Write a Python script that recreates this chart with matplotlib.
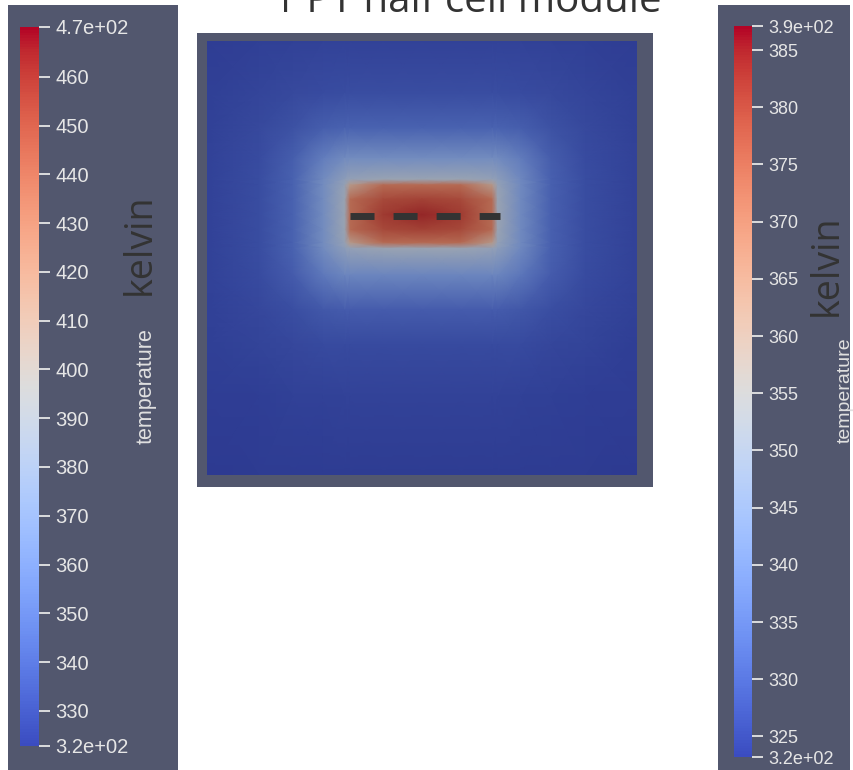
import numpy as np
import matplotlib
matplotlib.use('Agg')
import matplotlib.pyplot as plt
from matplotlib.colors import ListedColormap, Normalize
from matplotlib.patches import Rectangle
import matplotlib.cm as cm

# node positions of the sampled temperature field (percent of the plate)
x_nodes = [0, 12, 20, 27, 32, 33.3, 41, 50, 59, 66.3, 67.6, 73, 80, 88, 100]
y_nodes = [0, 12, 20, 27, 31.9, 33.2, 36.5, 40, 43.5, 46.5, 47.8, 54, 62, 70, 82, 100]

# temperature (K), one row per y node
temp_grid = [
    [325.1, 325.9, 326.8, 327.3, 327.4, 327.4, 327.4, 327.4, 327.4, 327.4, 327.4, 327.3, 326.8, 325.8, 325.0],
    [325.9, 328.2, 330.1, 331.4, 331.8, 331.8, 331.8, 331.8, 331.8, 331.8, 331.8, 331.4, 330.0, 328.1, 325.8],
    [326.8, 330.1, 334.2, 339.8, 341.6, 341.7, 341.7, 341.7, 341.7, 341.7, 341.6, 339.5, 333.8, 329.9, 326.7],
    [327.3, 331.4, 339.6, 356.1, 364.8, 365.4, 365.4, 365.4, 365.4, 365.4, 364.8, 355.1, 339.2, 331.2, 327.1],
    [327.4, 331.8, 341.5, 364.4, 380.3, 384.0, 387.7, 387.7, 387.7, 384.0, 380.3, 363.0, 340.9, 331.6, 327.3],
    [327.4, 331.8, 341.5, 365.0, 384.7, 411.2, 437.8, 437.8, 437.8, 411.2, 384.7, 363.4, 341.0, 331.6, 327.3],
    [327.4, 331.8, 341.5, 365.0, 387.7, 437.8, 451.0, 454.0, 451.0, 437.8, 387.7, 363.4, 341.0, 331.6, 327.3],
    [327.4, 331.8, 341.5, 365.0, 387.7, 437.8, 456.9, 462.8, 456.9, 437.8, 387.7, 363.4, 341.0, 331.6, 327.3],
    [327.4, 331.8, 341.5, 365.0, 387.7, 437.8, 451.0, 454.0, 451.0, 437.8, 387.7, 363.4, 341.0, 331.6, 327.3],
    [327.4, 331.8, 341.5, 365.0, 384.7, 411.2, 437.8, 437.8, 437.8, 411.2, 384.7, 363.4, 341.0, 331.6, 327.3],
    [327.4, 331.8, 341.5, 364.4, 380.3, 384.0, 387.7, 387.7, 387.7, 384.0, 380.3, 363.0, 340.9, 331.6, 327.3],
    [327.2, 331.2, 338.9, 352.8, 360.3, 360.7, 360.7, 360.7, 360.7, 360.7, 360.3, 352.0, 338.4, 331.0, 327.1],
    [326.6, 329.5, 332.2, 336.9, 338.5, 338.5, 338.5, 338.5, 338.5, 338.5, 338.5, 336.6, 332.1, 329.3, 326.5],
    [325.7, 327.8, 329.2, 330.4, 330.8, 330.8, 330.8, 330.8, 330.8, 330.8, 330.8, 330.4, 329.1, 327.7, 325.6],
    [324.9, 325.6, 326.3, 326.7, 326.9, 326.9, 326.9, 326.9, 326.9, 326.9, 326.9, 326.7, 326.2, 325.6, 324.9],
    [323.9, 324.1, 324.2, 324.3, 324.3, 324.3, 324.3, 324.3, 324.3, 324.3, 324.3, 324.3, 324.2, 324.1, 323.9],
]

# probe line across the hot cell
probe_x = [33.3, 68.1]
probe_y = 40.3

# colour bar ranges and ticks
left_range = (322.8, 470.2)
left_ticks = [322.8, 330, 340, 350, 360, 370, 380, 390, 400, 410, 420, 430, 440, 450, 460, 470.2]
left_labels = ['3.2e+02', '330', '340', '350', '360', '370', '380', '390', '400',
               '410', '420', '430', '440', '450', '460', '4.7e+02']
right_range = (323.2, 387.1)
right_ticks = [323.2, 325, 330, 335, 340, 345, 350, 355, 360, 365, 370, 375, 380, 385, 387.1]
right_labels = ['3.2e+02', '325', '330', '335', '340', '345', '350', '355', '360',
                '365', '370', '375', '380', '385', '3.9e+02']

W, H = 854, 770
bg = '#52576e'


def box(x0, y0, x1, y1):
    # pixel box (top-left origin) -> figure fraction rect
    return [x0 / W, 1 - y1 / H, (x1 - x0) / W, (y1 - y0) / H]


fig = plt.figure(figsize=(W / 100, H / 100), dpi=100)
fig.patch.set_facecolor('white')

for x0, y0, x1, y1 in [(8, 5, 178, 770), (718, 5, 850, 770), (197, 33, 653, 487)]:
    r = box(x0, y0, x1, y1)
    fig.patches.append(Rectangle((r[0], r[1]), r[2], r[3], transform=fig.transFigure,
                                 facecolor=bg, edgecolor='none', zorder=-5))

# heat map, shaded a little darker like the rendered surface
shade = plt.cm.coolwarm(np.linspace(0, 1, 256))[:, :3] * 0.75
dark_cmap = ListedColormap(shade)
ax = fig.add_axes(box(207, 41, 637, 475))
X, Y = np.meshgrid(x_nodes, y_nodes)
ax.pcolormesh(X, Y, np.array(temp_grid), shading='gouraud', cmap=dark_cmap,
              vmin=left_range[0], vmax=left_range[1])
ax.plot(probe_x, [probe_y, probe_y], color='#333333', lw=5,
        linestyle=(0, (3.46, 2.74)), dash_capstyle='butt')
ax.set_xlim(0, 100)
ax.set_ylim(100, 0)
ax.axis('off')


def colorbar(rect, vrange, ticks, labels, size):
    cax = fig.add_axes(rect)
    sm = cm.ScalarMappable(norm=Normalize(*vrange), cmap='coolwarm')
    cb = fig.colorbar(sm, cax=cax)
    cb.outline.set_visible(False)
    cb.set_ticks(ticks)
    cb.set_ticklabels(labels)
    cax.tick_params(axis='y', colors='#e6e6e6', length=8, width=1.3, pad=4,
                    labelsize=size)
    for t in cax.get_yticklabels():
        t.set_fontfamily('Liberation Sans')
    cax.minorticks_off()
    return cax


colorbar(box(20, 27, 39, 746), left_range, left_ticks, left_labels, 14.5)
colorbar(box(734, 26, 752, 757), right_range, right_ticks, right_labels, 13)

fig.text(140 / W, 1 - 244 / H, 'kelvin', rotation=90, ha='center', va='center',
         fontsize=27, family='Open Sans', color='#333333')
fig.text(827 / W, 1 - 265 / H, 'kelvin', rotation=90, ha='center', va='center',
         fontsize=27, family='Open Sans', color='#333333')
fig.text(146 / W, 1 - 386 / H, 'temperature', rotation=90, ha='center', va='center',
         fontsize=15.5, family='Liberation Sans', color='#e0e0e0')
fig.text(845 / W, 1 - 390 / H, 'temperature', rotation=90, ha='center', va='center',
         fontsize=14, family='Liberation Sans', color='#e0e0e0')

fig.text(467 / W, 1 - 12 / H, '1 PT half cell module', ha='center', va='baseline',
         fontsize=29, family='Open Sans', color='#333333')

fig.savefig('out.png', dpi=100, facecolor='white')
